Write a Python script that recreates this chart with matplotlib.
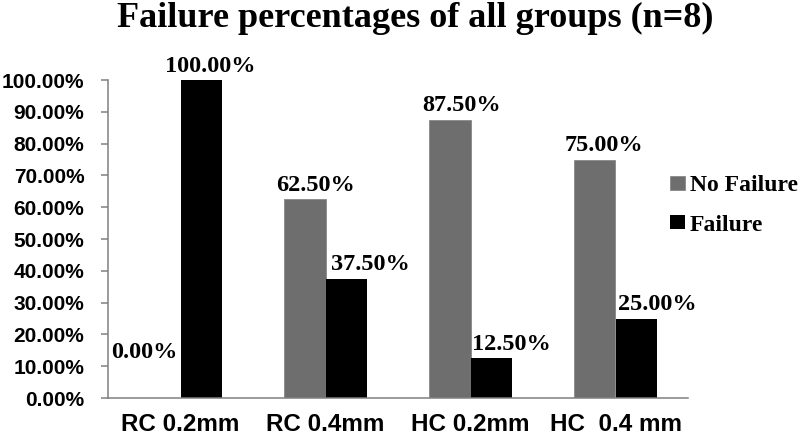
import matplotlib.pyplot as plt
import numpy as np

# data
groups = ['RC 0.2mm', 'RC 0.4mm', 'HC 0.2mm', 'HC  0.4 mm']
no_failure = [0.0, 62.5, 87.5, 75.0]
failure = [100.0, 37.5, 12.5, 25.0]
yticks = np.arange(0, 101, 10)

# label nudges in points (dx, dy from bar top), as placed in the original
nudge_gray = [(-11, 29), (7.5, 6), (8, 6), (6.5, 6)]
nudge_black = [(6.5, 6), (17.5, 6), (14.5, 6), (15, 6)]

gray = '#6e6e6e'
fig = plt.figure(figsize=(8, 4.38), dpi=100)
ax = fig.add_axes([0.135, 0.0913, 0.725, 0.726])

x = np.arange(len(groups))
w = 0.283
b1 = ax.bar(x - w / 2, no_failure, w, color=gray, edgecolor='#888888', linewidth=0.6,
            label='No Failure')
b2 = ax.bar(x + w / 2, failure, w, color='black', label='Failure')

# value labels
for bars, vals, nudges in [(b1, no_failure, nudge_gray), (b2, failure, nudge_black)]:
    for bar, v, (dx, dy) in zip(bars, vals, nudges):
        ax.annotate('%.2f%%' % v, (bar.get_x() + bar.get_width() / 2, v),
                    xytext=(dx, dy), textcoords='offset points', ha='center', va='baseline',
                    fontsize=17.5, fontweight='bold', family='Liberation Serif')

ax.set_xlim(-0.5, 3.5)
ax.set_ylim(0, 100)
ax.set_yticks(yticks)
ax.set_yticklabels(['%.2f%%' % t for t in yticks], fontsize=15, fontweight='bold',
                   family='Liberation Sans')
ax.set_xticks(x)
ax.set_xticklabels(groups, fontsize=17.5, fontweight='bold', family='Liberation Sans')
ax.tick_params(axis='x', length=0, pad=11)
ax.tick_params(axis='y', length=5, width=1.1, color='#808080', pad=12)
for s in ['top', 'right']:
    ax.spines[s].set_visible(False)
for s in ['left', 'bottom']:
    ax.spines[s].set_color('#808080')
    ax.spines[s].set_linewidth(1.1)

fig.text(0.519, 0.938, 'Failure percentages of all groups (n=8)', ha='center', va='baseline',
         fontsize=26, fontweight='bold', family='Liberation Serif')

fig.legend(loc='upper left', bbox_to_anchor=(0.8375, 0.60), frameon=False,
           prop={'family': 'Liberation Serif', 'weight': 'bold', 'size': 17},
           handlelength=0.62, handleheight=0.55, handletextpad=0.22, labelspacing=0.78,
           borderpad=0, borderaxespad=0)

plt.savefig('out.png', dpi=100)
plt.close()
